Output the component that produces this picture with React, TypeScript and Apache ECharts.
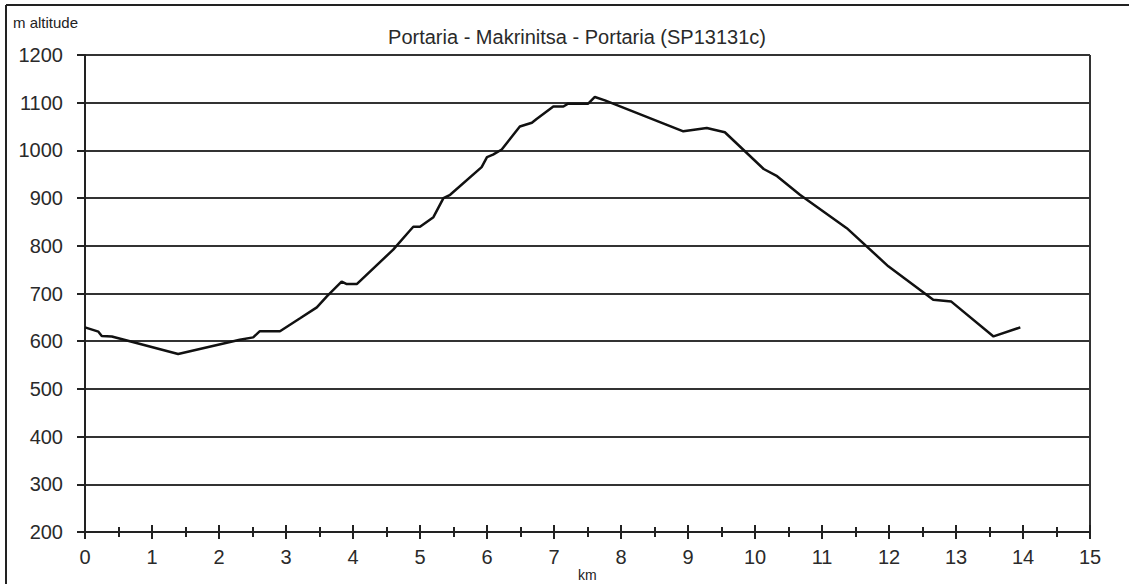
import React, { useEffect, useRef } from "react";
import * as echarts from "echarts";

const TITLE = "Portaria - Makrinitsa - Portaria (SP13131c)";
const Y_NAME = "m altitude";
const X_NAME = "km";

const distanceKm: number[] = [
  0, 0.2, 0.25, 0.4, 1.39, 2.31, 2.51, 2.61, 2.91, 3.21, 3.46, 3.61, 3.83, 3.9,
  4.06, 4.6, 4.85, 4.9, 5.0, 5.2, 5.35, 5.45, 5.92, 6.0, 6.09, 6.22, 6.49, 6.67,
  6.74, 6.99, 7.14, 7.21, 7.51, 7.61, 7.76, 8.93, 9.28, 9.55, 10.13, 10.33,
  10.67, 11.37, 11.99, 12.26, 12.66, 12.93, 13.56, 13.96,
];
const altitudeM: number[] = [
  629, 620, 611, 610, 573, 603, 608, 621, 621, 648, 671, 694, 725, 720, 720,
  792, 832, 840, 840, 860, 900, 907, 965, 986, 991, 1002, 1050, 1058, 1066,
  1092, 1092, 1098, 1098, 1112, 1105, 1040, 1047, 1038, 961, 946, 907, 837,
  757, 729, 687, 683, 610, 629,
];

const X_MIN = 0;
const X_MAX = 15;
const Y_MIN = 200;
const Y_MAX = 1200;

const FONT = "'Liberation Sans', Arial, sans-serif";

export default function App() {
  const ref = useRef<HTMLDivElement>(null);

  useEffect(() => {
    document.body.style.margin = "0";
    if (!ref.current) return;
    const chart = echarts.init(ref.current, undefined, { renderer: "svg" });
    const points = distanceKm.map((d, i) => [d, altitudeM[i]]);
    const grid = { left: 85, right: 39, top: 55, bottom: 52, containLabel: false };

    chart.setOption({
      animation: false,
      backgroundColor: "#ffffff",
      title: {
        text: TITLE,
        left: 572,
        textAlign: "center",
        top: 22,
        textStyle: { fontFamily: FONT, fontSize: 20, fontWeight: "normal", color: "#2a2a2a" },
      },
      grid,
      graphic: [
        { type: "line", shape: { x1: 6, y1: 5, x2: 1129, y2: 5 }, style: { stroke: "#222", lineWidth: 2 } },
        { type: "line", shape: { x1: 6, y1: 5, x2: 6, y2: 584 }, style: { stroke: "#222", lineWidth: 2 } },
        { type: "line", shape: { x1: 1090, y1: 55, x2: 1090, y2: 532 }, style: { stroke: "#333", lineWidth: 2 } },
        { type: "text", left: 13, top: 15, style: { text: Y_NAME, fontFamily: FONT, fontSize: 15, fill: "#222" } },
        { type: "text", left: 578, top: 568, style: { text: X_NAME, fontFamily: FONT, fontSize: 14, fill: "#222" } },
      ],
      xAxis: [
        {
          type: "value",
          min: X_MIN,
          max: X_MAX,
          interval: 1,
          position: "bottom",
          axisLine: { show: true, onZero: false, lineStyle: { color: "#222", width: 2 } },
          axisTick: { show: true, inside: false, length: 7, lineStyle: { color: "#222", width: 2 } },
          minorTick: { show: true, splitNumber: 2, length: 5, lineStyle: { color: "#222", width: 2 } },
          axisLabel: { fontFamily: FONT, fontSize: 20, color: "#2a2a2a", margin: 15 },
          splitLine: { show: false },
        },
        {
          type: "value",
          min: X_MIN,
          max: X_MAX,
          interval: 1,
          position: "bottom",
          axisLine: { show: false, onZero: false },
          axisTick: { show: true, inside: true, length: 7, lineStyle: { color: "#222", width: 2 } },
          minorTick: { show: true, splitNumber: 2, length: 5, lineStyle: { color: "#222", width: 2 } },
          axisLabel: { show: false },
          splitLine: { show: false },
        },
      ],
      yAxis: {
        type: "value",
        min: Y_MIN,
        max: Y_MAX,
        interval: 100,
        axisLine: { show: true, onZero: false, lineStyle: { color: "#222", width: 2 } },
        axisTick: { show: true, inside: false, length: 8, lineStyle: { color: "#222", width: 2 } },
        axisLabel: {
          fontFamily: FONT,
          fontSize: 20,
          color: "#2a2a2a",
          margin: 22,
          formatter: (v: number) => String(v),
        },
        splitLine: { show: true, lineStyle: { color: "#333", width: 2 } },
      },
      series: [
        {
          type: "line",
          data: points,
          showSymbol: false,
          symbol: "none",
          lineStyle: { color: "#111", width: 2.5 },
          xAxisIndex: 0,
          z: 5,
        },
      ],
    });

    return () => chart.dispose();
  }, []);

  return <div ref={ref} style={{ width: 1129, height: 584 }} />;
}
